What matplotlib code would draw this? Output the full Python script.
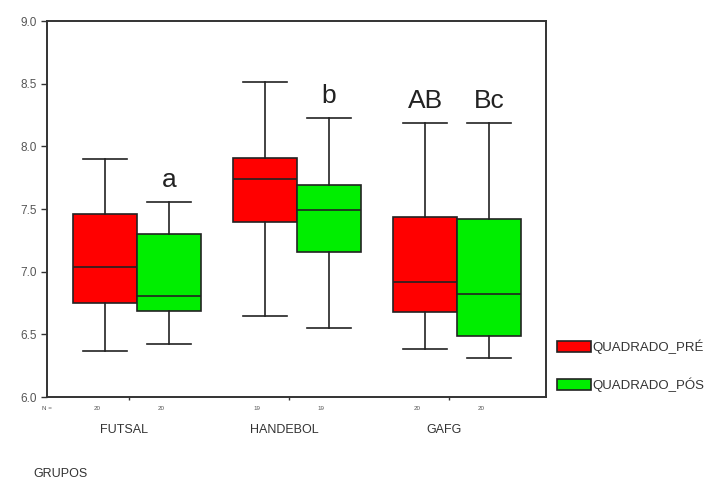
import matplotlib.pyplot as plt
from matplotlib.patches import Patch

# Box statistics (SPSS-style boxplot)
groups = ["FUTSAL", "HANDEBOL", "GAFG"]
n_pre = [20, 19, 20]
n_post = [20, 19, 20]

pre_whislo = [6.37, 6.65, 6.38]
pre_q1 = [6.75, 7.40, 6.68]
pre_med = [7.04, 7.74, 6.92]
pre_q3 = [7.46, 7.91, 7.44]
pre_whishi = [7.90, 8.51, 8.19]

post_whislo = [6.42, 6.55, 6.31]
post_q1 = [6.69, 7.16, 6.49]
post_med = [6.81, 7.49, 6.82]
post_q3 = [7.30, 7.69, 7.42]
post_whishi = [7.56, 8.23, 8.19]

post_letters = ["a", "b", "Bc"]
pre_letters = ["", "", "AB"]

font = ["Liberation Sans", "DejaVu Sans"]
plt.rcParams["font.family"] = font

fig = plt.figure(figsize=(7.2, 4.82), dpi=100)
ax = fig.add_axes([0.0653, 0.1763, 0.693, 0.780])

pos = [1, 2, 3]
off = 0.2
w = 0.4

def stats(lo, q1, med, q3, hi):
    return [dict(whislo=a, q1=b, med=c, q3=d, whishi=e, fliers=[])
            for a, b, c, d, e in zip(lo, q1, med, q3, hi)]

common = dict(widths=w, patch_artist=True, showfliers=False, capwidths=0.27,
              medianprops=dict(color="#222222", lw=1.2),
              whiskerprops=dict(color="#222222", lw=1.2),
              capprops=dict(color="#222222", lw=1.2))

ax.bxp(stats(pre_whislo, pre_q1, pre_med, pre_q3, pre_whishi),
       positions=[p - off for p in pos],
       boxprops=dict(facecolor="#ff0000", edgecolor="#222222", lw=1.2), **common)
ax.bxp(stats(post_whislo, post_q1, post_med, post_q3, post_whishi),
       positions=[p + off for p in pos],
       boxprops=dict(facecolor="#00ee00", edgecolor="#222222", lw=1.2), **common)

for p, t, hi in zip(pos, pre_letters, pre_whishi):
    ax.text(p - off, hi + 0.075, t, ha="center", va="bottom", fontsize=19,
            color="#222222")
for p, t, hi in zip(pos, post_letters, post_whishi):
    ax.text(p + off, hi + 0.075, t, ha="center", va="bottom", fontsize=19,
            color="#222222")

ax.set_xlim(0.4375, 3.556)
ax.set_ylim(6.0, 9.0)
ax.set_yticks([6.0, 6.5, 7.0, 7.5, 8.0, 8.5, 9.0])
ax.set_yticklabels(["6.0", "6.5", "7.0", "7.5", "8.0", "8.5", "9.0"])
ax.tick_params(axis="y", length=4, width=1, color="#333333",
               labelsize=8.5, labelcolor="#555555", pad=3)
ax.set_xticks([p - 0.05 for p in pos])
ax.set_xticklabels([])
ax.tick_params(axis="x", length=2, width=1, color="#333333")
for s in ax.spines.values():
    s.set_color("#333333")
    s.set_linewidth(1.4)

# N counts and group labels under the axis
ax.text(0.4375, 6.0 - 0.09, "N =", fontsize=4.5, color="#555555",
        ha="center", va="center", clip_on=False)
for p, a, b, g in zip(pos, n_pre, n_post, groups):
    ax.text(p - 0.25, 6.0 - 0.09, str(a), fontsize=4.5, color="#555555",
            ha="center", va="center", clip_on=False)
    ax.text(p + 0.15, 6.0 - 0.09, str(b), fontsize=4.5, color="#555555",
            ha="center", va="center", clip_on=False)
    ax.text(p - 0.08, 6.0 - 0.265, g, fontsize=9, color="#333333",
            ha="center", va="center", clip_on=False)

fig.text(33 / 720, 1 - 474 / 482, "GRUPOS", fontsize=9, color="#333333",
         ha="left", va="center")

handles = [Patch(facecolor="#ff0000", edgecolor="#222222", lw=1.2, label="QUADRADO_PRÉ"),
           Patch(facecolor="#00ee00", edgecolor="#222222", lw=1.2, label="QUADRADO_PÓS")]
fig.legend(handles=handles, loc="upper left", bbox_to_anchor=(0.766, 0.307),
           frameon=False, fontsize=9.5, handlelength=2.58, handleheight=0.9,
           handletextpad=0.1, labelspacing=1.8, borderaxespad=0, labelcolor="#333333")

fig.savefig("out.png", dpi=100)
